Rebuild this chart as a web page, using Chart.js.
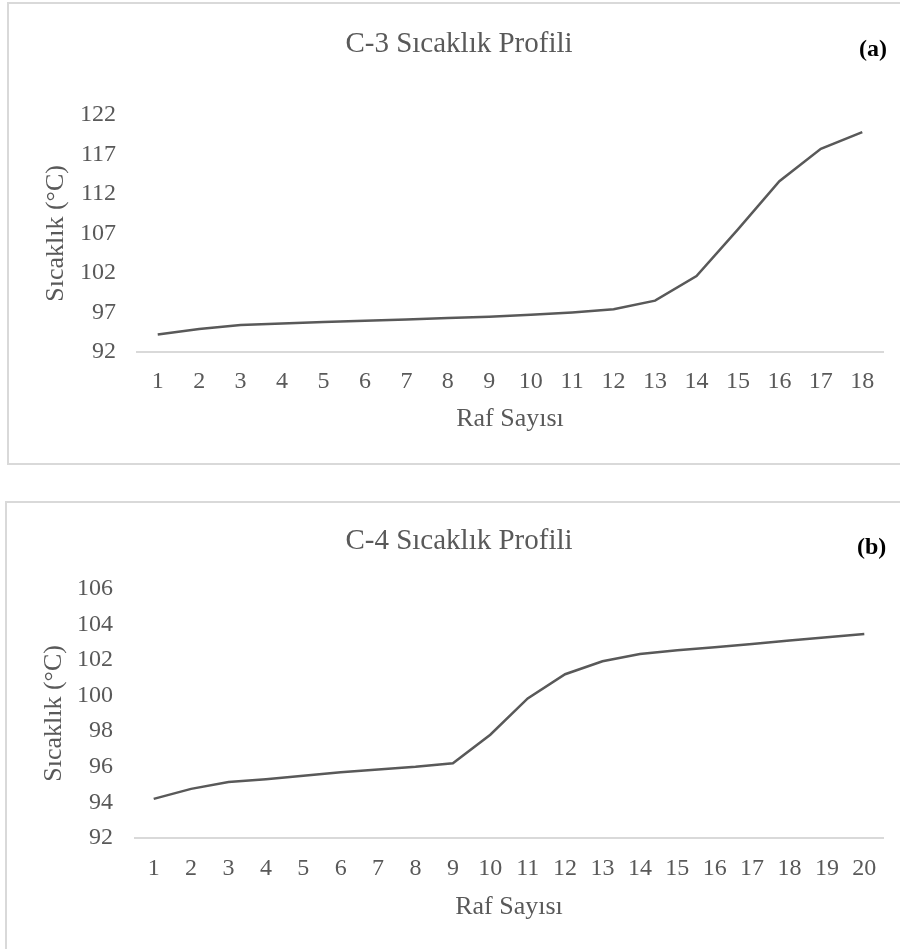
<!DOCTYPE html>
<html>
<head>
<meta charset="utf-8">
<script src="https://cdn.jsdelivr.net/npm/chart.js@4/dist/chart.umd.min.js"></script>
<style>
    body { margin: 0; background: #fff; width: 900px; height: 949px; overflow: hidden; position: relative; }
    .frame { position: absolute; box-sizing: border-box; border: 2px solid #d9d9d9; }
    #frameA { left: 7px; top: 2px; width: 1000px; height: 463px; }
    #frameB { left: 5px; top: 501px; width: 1000px; height: 600px; }
    .box { position: absolute; left: 35px; width: 865px; }
    #boxA { top: 0; height: 480px; }
    #boxB { top: 480px; height: 469px; }
    .tag { position: absolute; font: bold 24px "Liberation Serif", "Times New Roman", serif; line-height: 1; color: #000; }
</style>
</head>
<body>
<div class="frame" id="frameA"></div>
<div class="frame" id="frameB"></div>
<div class="box" id="boxA"><canvas id="c3Chart" width="865" height="480"></canvas></div>
<div class="box" id="boxB"><canvas id="c4Chart" width="865" height="469"></canvas></div>
<span class="tag" style="left:859px; top:36px;">(a)</span>
<span class="tag" style="left:857px; top:534px;">(b)</span>
<script>
// C-3 column
const c3Trays = ['1','2','3','4','5','6','7','8','9','10','11','12','13','14','15','16','17','18'];
const c3Temps = [94.2, 94.9, 95.4, 95.6, 95.8, 95.95, 96.1, 96.3, 96.45, 96.7, 97.0, 97.4, 98.5, 101.6, 107.5, 113.6, 117.7, 119.8];
const c3YTicks = [92, 97, 102, 107, 112, 117, 122];

// C-4 column
const c4Trays = ['1','2','3','4','5','6','7','8','9','10','11','12','13','14','15','16','17','18','19','20'];
const c4Temps = [94.2, 94.76, 95.14, 95.3, 95.5, 95.7, 95.85, 96.0, 96.2, 97.8, 99.84, 101.2, 101.93, 102.34, 102.55, 102.72, 102.9, 103.1, 103.28, 103.46];
const c4YTicks = [92, 94, 96, 98, 100, 102, 104, 106];

Chart.defaults.font.family = "'Liberation Serif', 'Times New Roman', serif";
Chart.defaults.color = '#595959';

function makeProfile(id, title, labels, values, yTicks, lay) {
    const ctx = document.getElementById(id).getContext('2d');
    return new Chart(ctx, {
        type: 'line',
        data: {
            labels: labels,
            datasets: [{
                data: values,
                borderColor: '#595959',
                borderWidth: 2.5,
                pointRadius: 0,
                tension: 0,
                fill: false
            }]
        },
        options: {
            responsive: false,
            animation: false,
            layout: { padding: { left: 0, right: 17, top: 0, bottom: 0 } },
            plugins: {
                legend: { display: false },
                tooltip: { enabled: false },
                title: {
                    display: true,
                    text: title,
                    color: '#595959',
                    font: { size: 29, weight: 'normal' },
                    padding: { top: lay.titleTop, bottom: lay.titleBottom }
                }
            },
            scales: {
                x: {
                    offset: true,
                    grid: { display: false },
                    border: { display: true, color: '#d9d9d9', width: 2 },
                    ticks: { font: { size: 24 }, padding: lay.xTickPad, maxRotation: 0, autoSkip: false },
                    title: {
                        display: true,
                        text: 'Raf Sayısı',
                        font: { size: 26 },
                        padding: { top: 0, bottom: lay.xTitlePad }
                    },
                    afterFit: function (scale) { scale.height = lay.xHeight; }
                },
                y: {
                    min: yTicks[0],
                    max: yTicks[yTicks.length - 1],
                    grid: { display: false, drawTicks: false },
                    border: { display: false },
                    ticks: { font: { size: 24 }, padding: lay.yTickPad },
                    afterBuildTicks: function (scale) {
                        scale.ticks = yTicks.map(v => ({ value: v }));
                    },
                    title: {
                        display: true,
                        text: 'Sıcaklık (°C)',
                        font: { size: 26 },
                        padding: { top: lay.yTitlePad, bottom: 0 }
                    },
                    afterFit: function (scale) { scale.width = lay.yWidth; }
                }
            }
        }
    });
}

makeProfile('c3Chart', 'C-3 Sıcaklık Profili', c3Trays, c3Temps, c3YTicks, {
    titleTop: 27, titleBottom: 53, xHeight: 128, xTickPad: 7, xTitlePad: 45,
    yWidth: 102, yTickPad: 21, yTitlePad: 6
});

makeProfile('c4Chart', 'C-4 Sıcaklık Profili', c4Trays, c4Temps, c4YTicks, {
    titleTop: 44, titleBottom: 30, xHeight: 111, xTickPad: 8, xTitlePad: 26,
    yWidth: 100, yTickPad: 22, yTitlePad: 4
});
</script>
</body>
</html>
